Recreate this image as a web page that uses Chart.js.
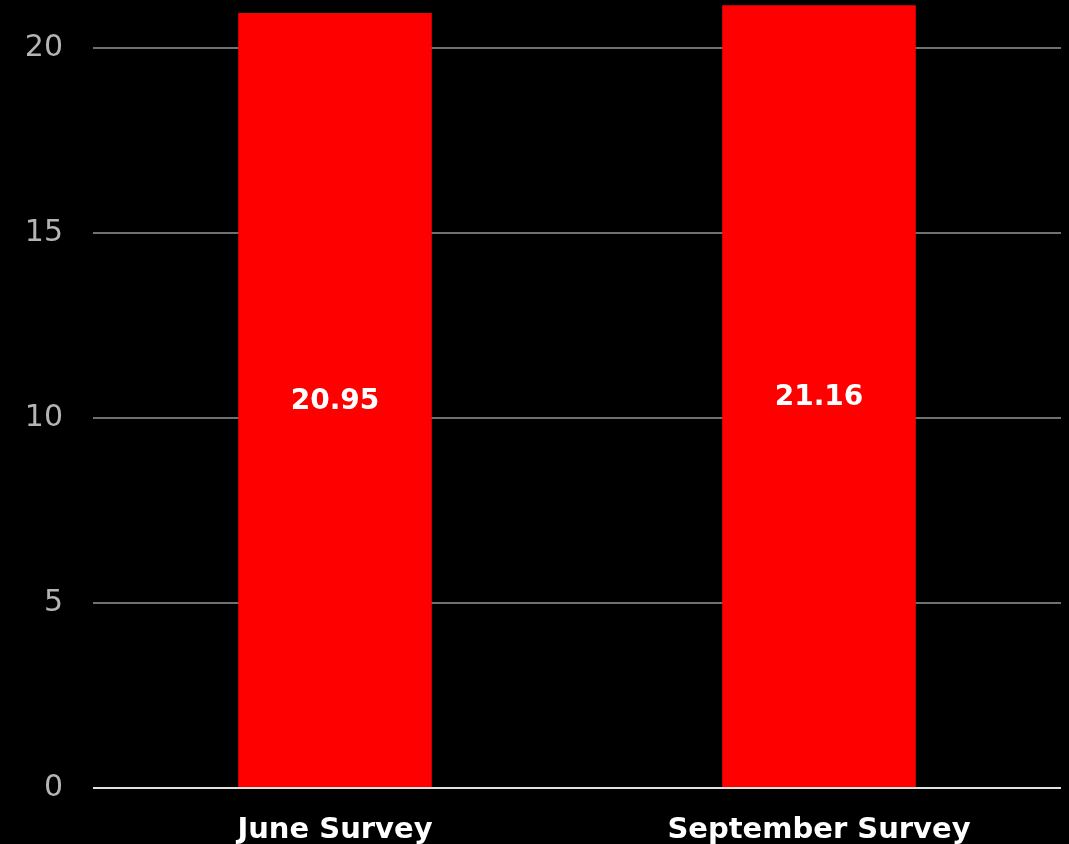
<!DOCTYPE html>
<html lang="en">
<head>
    <meta charset="UTF-8">
    <title>Survey</title>
    <script src="https://cdnjs.cloudflare.com/ajax/libs/Chart.js/4.4.0/chart.umd.js"></script>
    <style>
        html, body { margin: 0; padding: 0; background: #000; overflow: hidden; }
        #wrap { width: 1069px; height: 844px; }
    </style>
</head>
<body>
    <div id="wrap"><canvas id="chart"></canvas></div>

    <script>
        const categories = ['June Survey', 'September Survey']
        const values = [20.95, 21.16]
        const yStep = 5
        const yMax = 21.3

        const fontFamily = '"DejaVu Sans", sans-serif'

        // draws the value in the middle of each bar
        const barLabels = {
            id: 'barLabels',
            afterDatasetsDraw(chart) {
                const ctx = chart.ctx
                const meta = chart.getDatasetMeta(0)
                ctx.save()
                ctx.fillStyle = '#fff'
                ctx.font = 'bold 28px ' + fontFamily
                ctx.textAlign = 'center'
                ctx.textBaseline = 'middle'
                meta.data.forEach((bar, i) => {
                    const mid = (bar.y + bar.base) / 2
                    ctx.fillText(values[i].toFixed(2), bar.x, mid + 2)
                })
                ctx.restore()
            }
        }

        const isStep = v => Math.abs(v / yStep - Math.round(v / yStep)) < 1e-6

        new Chart(document.getElementById('chart'), {
            type: 'bar',
            data: {
                labels: categories,
                datasets: [{
                    data: values,
                    backgroundColor: '#ff0000',
                    categoryPercentage: 1,
                    barPercentage: 0.4,
                }]
            },
            options: {
                responsive: true,
                maintainAspectRatio: false,
                animation: false,
                layout: { padding: { top: 0, right: 8, bottom: 0, left: 0 } },
                plugins: { legend: { display: false }, tooltip: { enabled: false } },
                scales: {
                    y: {
                        min: 0,
                        max: yMax,
                        afterFit: axis => { axis.width = 93; axis.paddingTop = 0 },
                        border: { display: false },
                        grid: {
                            color: ctx => {
                                if (!ctx.tick || !isStep(ctx.tick.value)) return 'rgba(0,0,0,0)'
                                return ctx.tick.value === 0 ? '#e0e0e0' : '#707070'
                            },
                            lineWidth: 2,
                            drawTicks: false,
                        },
                        ticks: {
                            stepSize: yStep,
                            color: '#b4b4b4',
                            padding: 30,
                            callback: v => isStep(v) ? v : '',
                            font: { family: fontFamily, size: 30, weight: 'normal' },
                        },
                    },
                    x: {
                        afterFit: axis => { axis.height = 56 },
                        border: { display: false },
                        grid: { display: false },
                        ticks: {
                            color: '#fff',
                            padding: 17,
                            maxRotation: 0,
                            font: { family: fontFamily, size: 29, weight: 'bold' },
                        },
                    },
                },
            },
            plugins: [barLabels],
        })
    </script>
</body>
</html>
